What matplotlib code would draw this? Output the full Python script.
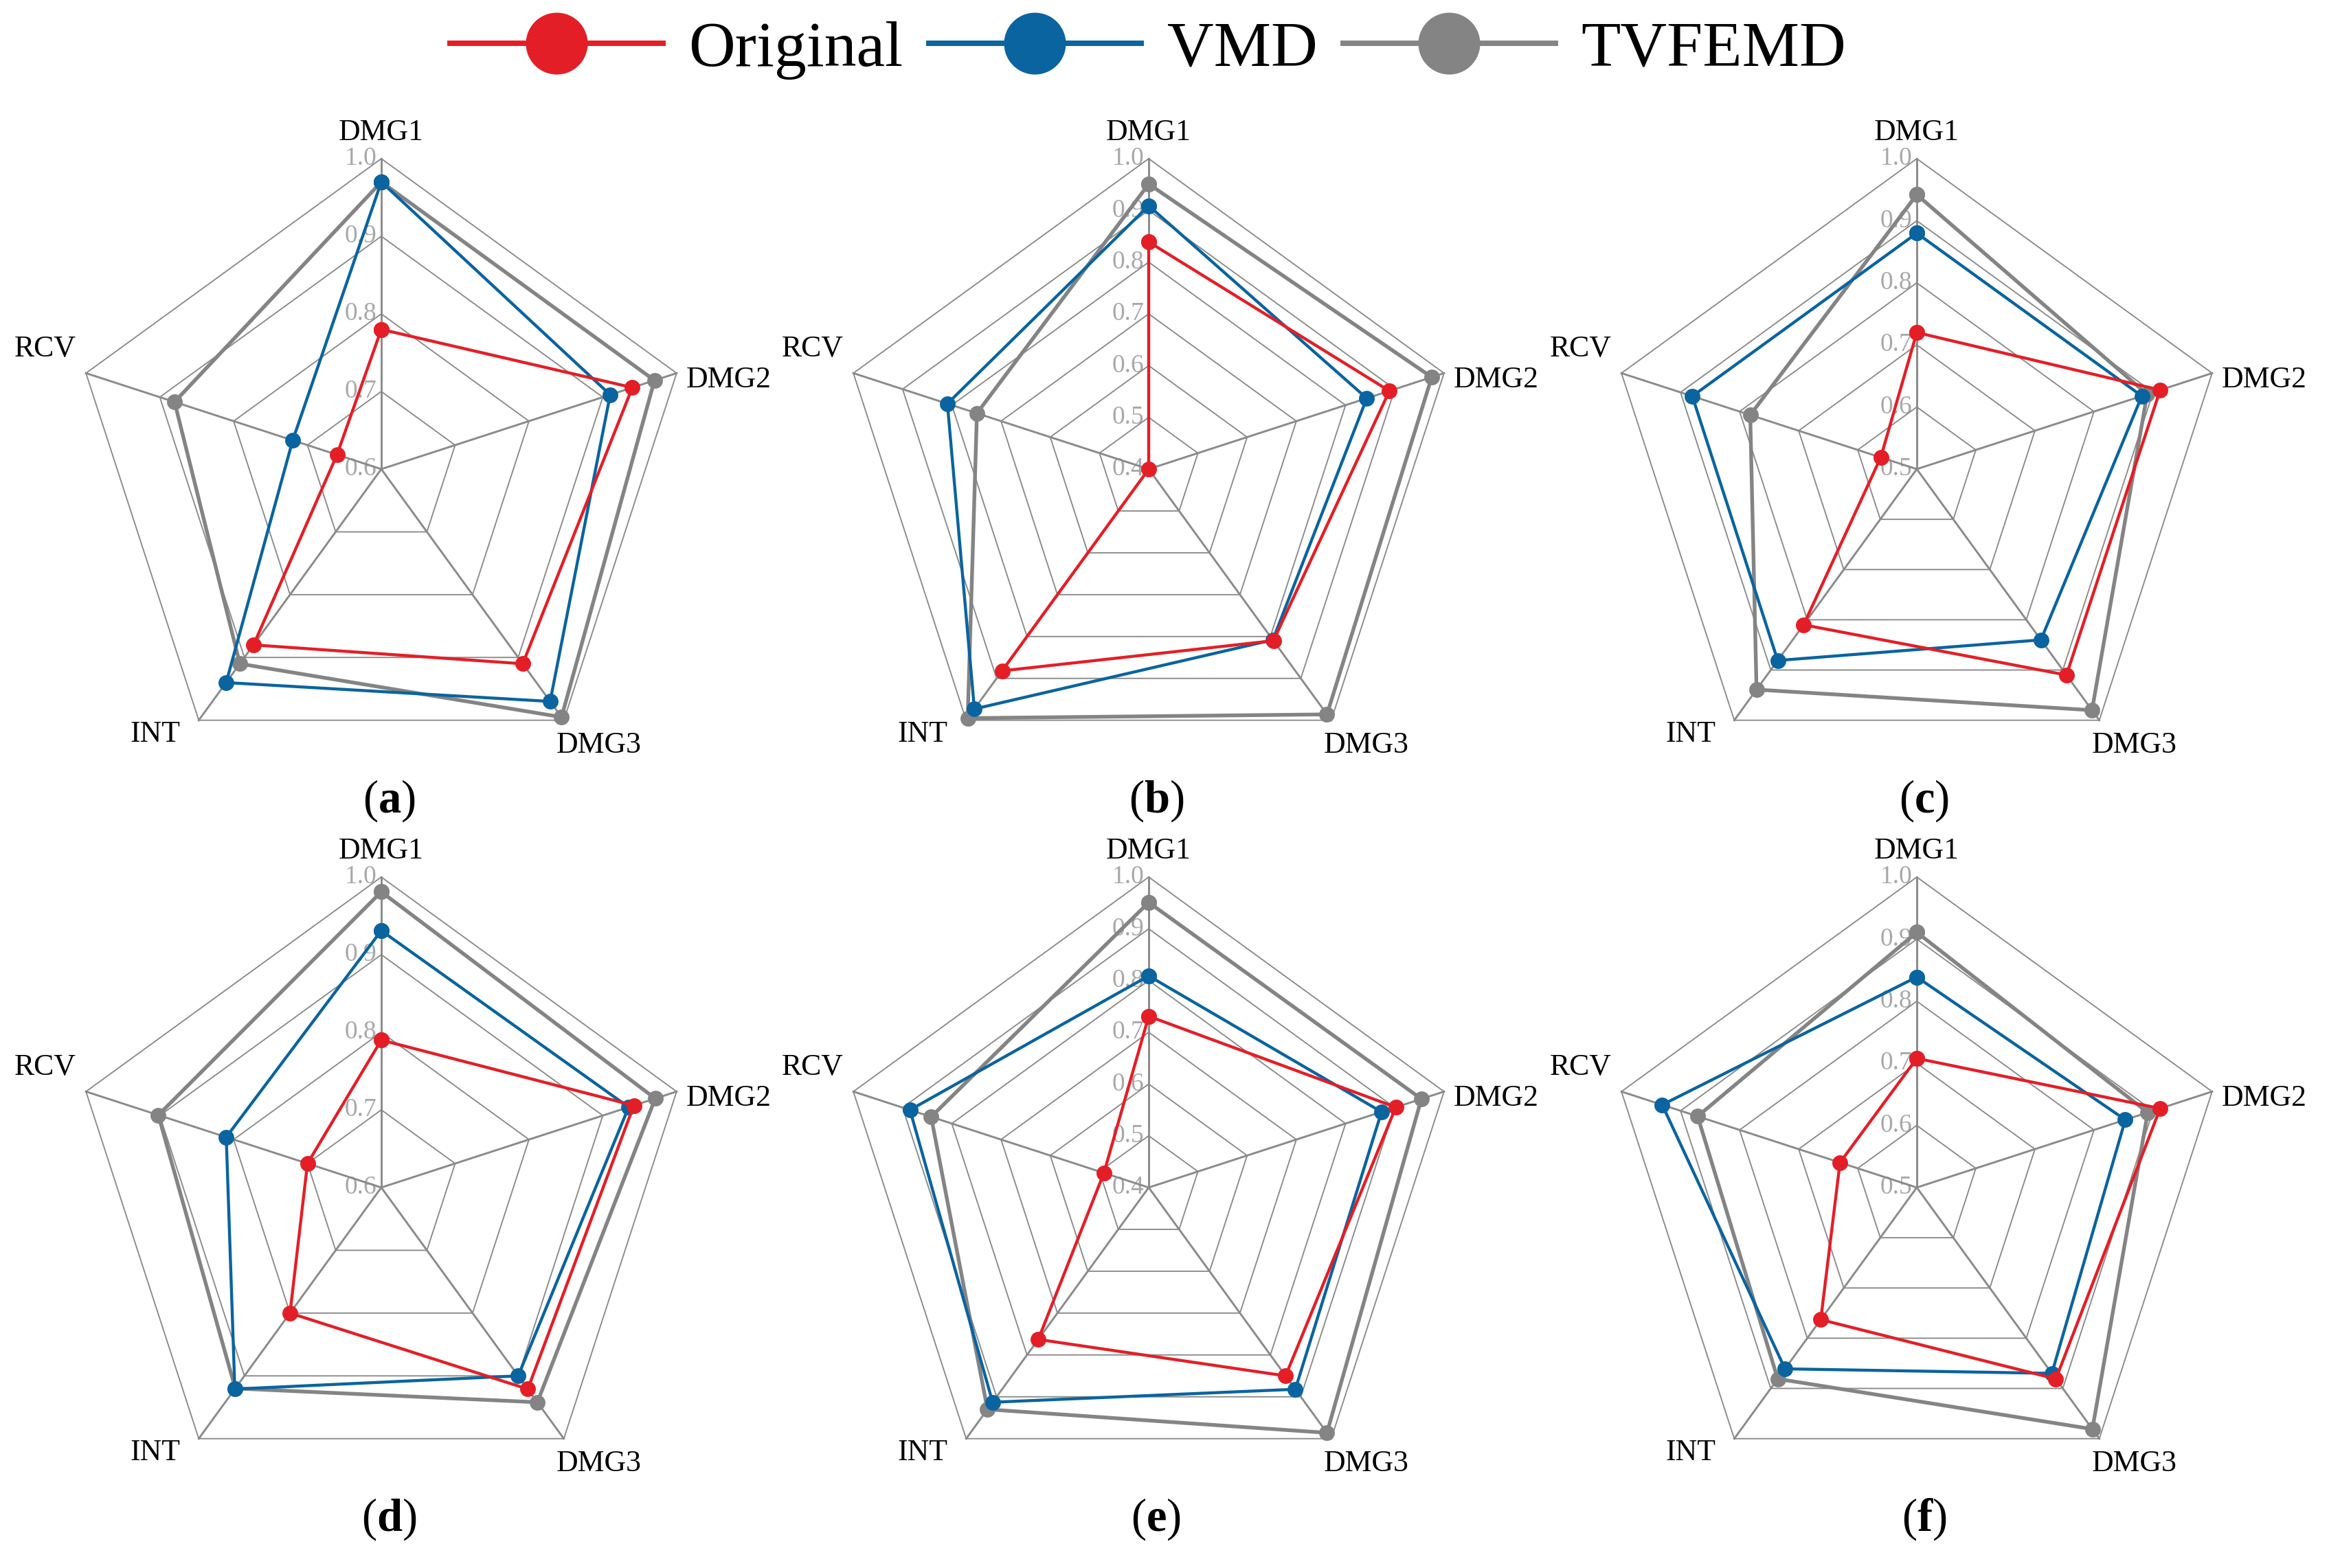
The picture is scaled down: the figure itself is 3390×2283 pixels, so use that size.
import numpy as np
import matplotlib
matplotlib.use("Agg")
import matplotlib.pyplot as plt
from matplotlib.lines import Line2D

plt.rcParams['font.family'] = ['Liberation Serif', 'DejaVu Serif']
plt.rcParams['mathtext.fontset'] = 'custom'
plt.rcParams['mathtext.rm'] = 'Liberation Serif'
plt.rcParams['mathtext.bf'] = 'Liberation Serif:bold'

# ---------------- data ----------------
categories = ['DMG1', 'DMG2', 'DMG3', 'INT', 'RCV']
series_names = ['Original', 'VMD', 'TVFEMD']
panel_labels = ['a', 'b', 'c', 'd', 'e', 'f']
r_min = [0.6, 0.4, 0.5, 0.6, 0.4, 0.5]

original = [
    [0.78, 0.94, 0.91, 0.88, 0.66],
    [0.839, 0.889, 0.81, 0.882, 0.40],
    [0.72, 0.912, 0.91, 0.81, 0.561],
    [0.79, 0.942, 0.921, 0.80, 0.70],
    [0.731, 0.902, 0.85, 0.763, 0.491],
    [0.708, 0.912, 0.881, 0.763, 0.63],
]
vmd = [
    [0.97, 0.91, 0.97, 0.94, 0.72],
    [0.909, 0.843, 0.808, 0.973, 0.809],
    [0.88, 0.881, 0.84, 0.881, 0.88],
    [0.931, 0.935, 0.90, 0.921, 0.81],
    [0.809, 0.873, 0.882, 0.913, 0.885],
    [0.839, 0.853, 0.87, 0.861, 0.931],
]
tvfemd = [
    [0.97, 0.97, 0.995, 0.91, 0.88],
    [0.951, 0.975, 0.986, 0.995, 0.749],
    [0.942, 0.89, 0.98, 0.939, 0.782],
    [0.981, 0.971, 0.942, 0.92, 0.902],
    [0.951, 0.954, 0.986, 0.93, 0.842],
    [0.911, 0.891, 0.981, 0.881, 0.871],
]

# ---------------- style ----------------
RED = '#E41E26'
BLUE = '#0A64A0'
GRAY = '#848484'
GRID = '#8A8A8A'
TICKC = '#A8A8A8'

W, H = 3390, 2283
fig = plt.figure(figsize=(W / 300, H / 300), dpi=300)

centers_x = [555, 1672, 2790]
centers_y = [683, 1729]
radius = 452

theta = np.arange(5) * 2 * np.pi / 5
theta_c = np.append(theta, theta[0])

# label offsets in points (dx, dy, ha)
lab_off = [(0, 9.0, 'center'), (3.4, -2.4, 'left'), (-2.6, -8.6, 'left'),
           (-6.5, -4.8, 'right'), (-3.4, 8.4, 'right')]

for i in range(6):
    row, col = divmod(i, 3)
    cx, cy = centers_x[col], centers_y[row]
    ax = fig.add_axes([(cx - radius) / W, (H - cy - radius) / H,
                       2 * radius / W, 2 * radius / H], projection='polar')
    ax.set_theta_zero_location('N')
    ax.set_theta_direction(-1)
    rmin = r_min[i]
    ax.set_ylim(rmin, 1.0)
    ax.axis('off')

    ticks = np.round(np.arange(rmin, 1.0001, 0.1), 1)
    for t in ticks[1:]:
        ax.plot(theta_c, [t] * 6, color=GRID, lw=0.45, zorder=1, clip_on=False)
    for th in theta:
        ax.plot([th, th], [rmin, 1.0], color=GRID, lw=0.7, zorder=1, clip_on=False)
    for t in ticks:
        ax.annotate(f'{t:.1f}', xy=(0, t), xytext=(-1.6, 0), textcoords='offset points',
                    ha='right', va='center', color=TICKC, fontsize=9,
                    annotation_clip=False, zorder=0.5)

    for vals, c, lw, z in [(tvfemd[i], GRAY, 1.3, 3), (vmd[i], BLUE, 1.05, 4),
                           (original[i], RED, 1.05, 5)]:
        v = np.append(vals, vals[0])
        ax.plot(theta_c, v, color=c, lw=lw, marker='o', ms=5.5, mec=c, mew=0,
                zorder=z, clip_on=False)

    for th, name, (dx, dy, ha) in zip(theta, categories, lab_off):
        ax.annotate(name, xy=(th, 1.0), xytext=(dx, dy), textcoords='offset points',
                    ha=ha, va='center', fontsize=10.5, color='black',
                    annotation_clip=False)

    fig.text((cx + 11) / W, 1 - (cy + 483) / H, '($\\mathbf{' + panel_labels[i] + '}$)',
             ha='center', va='center', fontsize=16)

handles = [Line2D([0], [0], color=c, lw=1.9, marker='o', ms=21.6, mew=0)
           for c in (RED, BLUE, GRAY)]
fig.legend(handles, series_names, loc='center', bbox_to_anchor=(0.493, 1 - 73 / H),
           ncol=3, frameon=False, fontsize=22.5, handlelength=3.3,
           handletextpad=0.4, columnspacing=0.4)

fig.savefig('out.png', dpi=300)
